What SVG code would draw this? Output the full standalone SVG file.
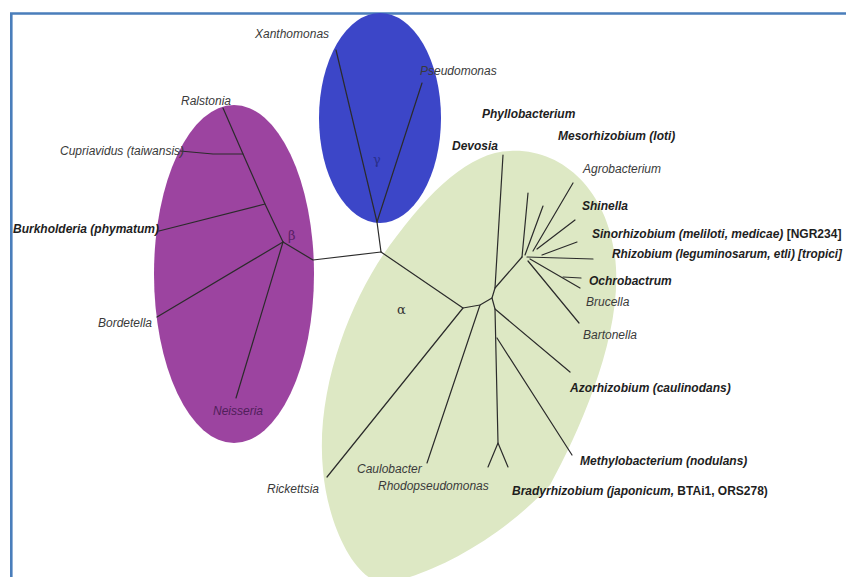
<svg xmlns="http://www.w3.org/2000/svg" width="846" height="577" viewBox="0 0 846 577">
<style>
.t{font-family:"Liberation Sans",Arial,sans-serif;font-size:12px;font-style:italic;fill:#3a3a3a}
.b{font-weight:bold;fill:#1e1e1e}
.up{font-style:normal}
.br{fill:none;stroke:#2b2b2b;stroke-width:1.2;stroke-linecap:round;stroke-linejoin:round}
.gl{font-family:"DejaVu Serif","Liberation Serif",serif;font-size:13px}
</style>
<rect width="846" height="577" fill="#ffffff"/>
<g id="frame" fill="none" stroke="#4a7ebb" stroke-width="2.6">
<path d="M11.3,577 V13.5 H846"/>
</g>
<g id="clade-beta"><ellipse cx="234" cy="274" rx="80" ry="169" fill="#9c44a0"/><text x="288" y="240" class="gl" fill="#5a1f66">β</text></g>
<g id="clade-gamma"><ellipse cx="380" cy="118" rx="61" ry="105" fill="#3c46c8"/><text x="373" y="164" class="gl" font-size="11" fill="#2a2f8a">γ</text></g>
<g id="clade-alpha"><path d="M510,151 C565,148 612,195 616,268 C620,340 580,430 550,485 C500,540 430,575 390,582 C360,590 328,530 323,470 C315,390 350,300 390,245 C430,190 470,152 510,151 Z" fill="#dde8c4"/><text x="397" y="314" class="gl" font-size="11" fill="#333">α</text></g>
<g id="connectors" class="br">
<path d="M381,252 L313,260 L283,242"/>
<path d="M381,252 L377,222 L336,50"/>
<path d="M377,222 L422,83"/>
<path d="M283,242 L265,204 L243,154 L223,108"/>
<path d="M243,154 L213,154 L180,151"/>
<path d="M265,204 L159,231"/>
<path d="M283,242 L157,317"/>
<path d="M283,242 L236,398"/>
<path d="M381,252 L463,308 L480,305 L492,298 L495,288 L503,155"/>
<path d="M463,308 L327,477"/>
<path d="M480,305 L427,463"/>
<path d="M495,288 L522,257"/>
<path d="M522,257 L528,193"/>
<path d="M525,255 L543,206"/>
<path d="M533,251 L573,183"/>
<path d="M537,249 L575,220"/>
<path d="M542,255 L577,242"/>
<path d="M527,257 L593,259"/>
<path d="M530,259 L580,288"/>
<path d="M563,277 L581,278"/>
<path d="M528,261 L579,323"/>
<path d="M492,298 L495,309 L498,443 L488,467"/>
<path d="M498,443 L508,467"/>
<path d="M495,309 L570,372"/>
<path d="M497,338 L572,455"/>
</g>
<g id="n-xanthomonas"><text x="255" y="38" class="t">Xanthomonas</text></g>
<g id="n-pseudomonas"><text x="420" y="75" class="t">Pseudomonas</text></g>
<g id="n-ralstonia"><text x="181" y="105" class="t">Ralstonia</text></g>
<g id="n-cupriavidus"><text x="60" y="155" class="t">Cupriavidus (taiwansis)</text></g>
<g id="n-burkholderia"><text x="13" y="233" class="t b">Burkholderia (phymatum)</text></g>
<g id="n-bordetella"><text x="98" y="327" class="t">Bordetella</text></g>
<g id="n-neisseria"><text x="213" y="415" class="t" style="fill:#50205a">Neisseria</text></g>
<g id="n-phyllobacterium"><text x="482" y="118" class="t b">Phyllobacterium</text></g>
<g id="n-mesorhizobium"><text x="558" y="140" class="t b">Mesorhizobium (loti)</text></g>
<g id="n-devosia"><text x="452" y="150" class="t b">Devosia</text></g>
<g id="n-agrobacterium"><text x="583" y="173" class="t">Agrobacterium</text></g>
<g id="n-shinella"><text x="582" y="210" class="t b">Shinella</text></g>
<g id="n-sinorhizobium"><text x="592" y="238" class="t b">Sinorhizobium (meliloti, medicae) <tspan class="up">[NGR234]</tspan></text></g>
<g id="n-rhizobium"><text x="612" y="258" class="t b" textLength="230" lengthAdjust="spacingAndGlyphs">Rhizobium (leguminosarum, etli) [tropici]</text></g>
<g id="n-ochrobactrum"><text x="589" y="285" class="t b">Ochrobactrum</text></g>
<g id="n-brucella"><text x="586" y="306" class="t">Brucella</text></g>
<g id="n-bartonella"><text x="583" y="339" class="t">Bartonella</text></g>
<g id="n-azorhizobium"><text x="570" y="392" class="t b">Azorhizobium (caulinodans)</text></g>
<g id="n-methylobacterium"><text x="580" y="465" class="t b">Methylobacterium (nodulans)</text></g>
<g id="n-bradyrhizobium"><text x="512" y="495" class="t b">Bradyrhizobium (japonicum, <tspan class="up">BTAi1, ORS278)</tspan></text></g>
<g id="n-caulobacter"><text x="357" y="473" class="t">Caulobacter</text></g>
<g id="n-rhodopseudomonas"><text x="378" y="490" class="t">Rhodopseudomonas</text></g>
<g id="n-rickettsia"><text x="267" y="493" class="t">Rickettsia</text></g>
</svg>
